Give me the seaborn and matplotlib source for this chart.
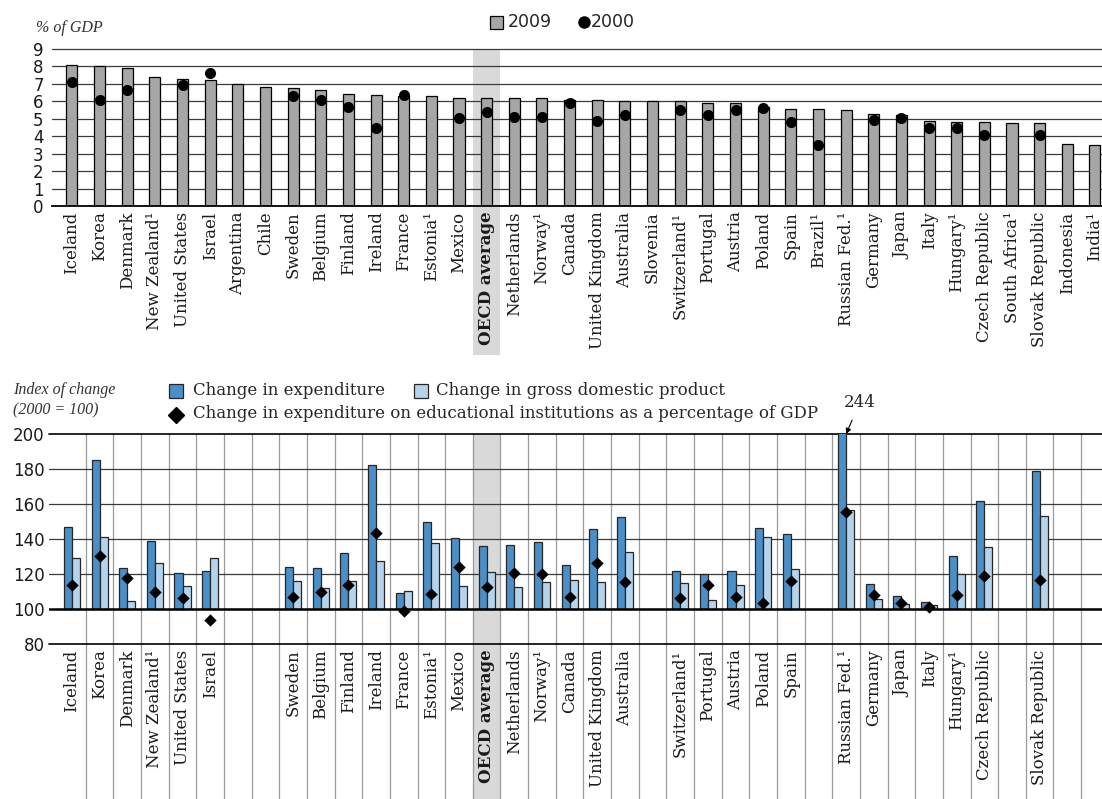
import matplotlib
matplotlib.use("Agg")
import matplotlib.pyplot as plt
import matplotlib.transforms as mtransforms
from matplotlib.patches import Rectangle
from matplotlib.lines import Line2D
import seaborn as sns
import numpy as np
import pandas as pd

nan = np.nan

# Countries, in the order of the chart
countries = ["Iceland", "Korea", "Denmark", "New Zealand¹", "United States", "Israel",
             "Argentina", "Chile", "Sweden", "Belgium", "Finland", "Ireland", "France",
             "Estonia¹", "Mexico", "OECD average", "Netherlands", "Norway¹", "Canada",
             "United Kingdom", "Australia", "Slovenia", "Switzerland¹", "Portugal",
             "Austria", "Poland", "Spain", "Brazil¹", "Russian Fed.¹", "Germany", "Japan",
             "Italy", "Hungary¹", "Czech Republic", "South Africa¹", "Slovak Republic",
             "Indonesia", "India¹"]

# Panel 1: expenditure as % of GDP
share_2009 = [8.1, 8.0, 7.9, 7.4, 7.3, 7.2, 7.0, 6.8, 6.75, 6.65, 6.4, 6.35, 6.3,
              6.3, 6.2, 6.2, 6.2, 6.2, 6.1, 6.1, 6.0, 6.0, 6.0, 5.9, 5.9, 5.7, 5.55,
              5.55, 5.5, 5.3, 5.2, 4.9, 4.8, 4.8, 4.75, 4.75, 3.55, 3.5]
share_2000 = [7.1, 6.1, 6.65, nan, 6.95, 7.6, nan, nan, 6.3, 6.05, 5.65, 4.45, 6.35,
              nan, 5.05, 5.4, 5.1, 5.1, 5.9, 4.9, 5.2, nan, 5.5, 5.2, 5.5, 5.6, 4.8,
              3.5, nan, 4.95, 5.05, 4.5, 4.45, 4.05, nan, 4.05, nan, nan]

# Panel 2: index of change 2000-2009 (2000 = 100)
exp_index = [147, 185, 123.5, 139, 120.5, 121.7, nan, nan, 124, 123.2, 132, 182.3,
             109, 149.8, 140.5, 135.9, 136.5, 138.4, 125.2, 145.8, 152.6, nan, 122,
             119.8, 121.7, 146.3, 142.9, nan, 244, 114.1, 107.2, 104, 130.1, 161.7,
             nan, 178.9, nan, nan]
gdp_index = [129, 141, 104.4, 126.3, 113, 129.3, nan, nan, 115.8, 112, 116, 127.2,
             110.3, 138, 113, 121.2, 112.6, 115.3, 116.6, 115.4, 132.4, nan, 114.7,
             105, 113.7, 141, 122.7, nan, 156.6, 105.9, 103, 102.3, 119.8, 135.6,
             nan, 153.1, nan, nan]
pct_index = [113.5, 130.5, 118, 109.7, 106.3, 93.9, nan, nan, 106.7, 109.7, 113.9,
             143.2, 98.7, 108.4, 124, 112.6, 120.8, 119.8, 107, 126.1, 115.2, nan,
             106.1, 113.9, 106.7, 103.4, 116.2, nan, 155.6, 107.8, 103.6, 101, 108.2,
             119, nan, 116.8, nan, nan]

series_names = ["Change in expenditure", "Change in gross domestic product"]
pct_name = "Change in expenditure on educational institutions as a percentage of GDP"

GREY = "#a6a6a6"
BLUE = "#4a8fc7"
LIGHT = "#b5d3eb"
SHADE = "#d9d9d9"
SERIF = "DejaVu Serif"

sns.set_theme(style="white")
plt.rcParams["font.family"] = ["DejaVu Sans"]

W, H = 1102, 799
fig = plt.figure(figsize=(W / 100, H / 100), dpi=100)


def px_box(left, top, right, bottom):
    return [left / W, 1 - bottom / H, (right - left) / W, (bottom - top) / H]


n = len(countries)
oecd = countries.index("OECD average")
slot = 27.65

ax1 = fig.add_axes(px_box(52, 49, W, 206))
ax2 = fig.add_axes(px_box(49, 434, W, 644))

# ---------- top panel ----------
tr1 = mtransforms.blended_transform_factory(ax1.transData, ax1.transAxes)
ax1.add_patch(Rectangle((oecd - 0.5, -0.95), 1, 1.95, transform=tr1, color=SHADE,
                        lw=0, zorder=0, clip_on=False))
for v in range(1, 10):
    ax1.axhline(v, color="#3a3a3a", lw=0.9, zorder=0.5, clip_on=False)

sns.barplot(x=countries, y=share_2009, order=countries, color=GREY, saturation=1,
            width=0.4, edgecolor="black", linewidth=0.9, errorbar=None, ax=ax1, zorder=2)
sns.stripplot(x=countries, y=share_2000, order=countries, jitter=False, color="black",
              size=8, linewidth=0, ax=ax1, zorder=3)

ax1.set_ylim(0, 9)
ax1.set_xlim(-0.72, -0.72 + (W - 52) / slot)
ax1.set_yticks(range(10))
ax1.set_xticks(range(n))
ax1.set_xticklabels(countries, rotation=90, fontfamily=SERIF, fontsize=13)
ax1.get_xticklabels()[oecd].set_fontweight("bold")
ax1.tick_params(axis="both", length=0, pad=4, labelsize=12, colors="#1a1a1a")
ax1.tick_params(axis="y", pad=6)
ax1.set_xlabel("")
ax1.set_ylabel("")
for s in ["top", "left", "right"]:
    ax1.spines[s].set_visible(False)
ax1.spines["bottom"].set_color("black")
ax1.spines["bottom"].set_linewidth(1.3)
ax1.patch.set_alpha(0)

# ---------- bottom panel ----------
tr2 = mtransforms.blended_transform_factory(ax2.transData, ax2.transAxes)
ax2.add_patch(Rectangle((oecd - 0.5, -0.8), 1, 1.8, transform=tr2, color=SHADE,
                        lw=0, zorder=0, clip_on=False))
for b in np.arange(n - 1) + 0.5:
    ax2.axvline(b, ymin=-0.8, ymax=1, color="#9a9a9a", lw=0.9, zorder=0.5, clip_on=False)
for v in [120, 140, 160, 180]:
    ax2.axhline(v, color="#3a3a3a", lw=0.9, zorder=0.6)
for v in [80, 200]:
    ax2.axhline(v, color="black", lw=1.2, zorder=0.6, clip_on=False)

df = pd.DataFrame({
    "country": countries * 2,
    "series": [series_names[0]] * n + [series_names[1]] * n,
    "rise": np.r_[exp_index, gdp_index] - 100,
})
sns.barplot(data=df, x="country", y="rise", hue="series", order=countries,
            hue_order=series_names, palette=[BLUE, LIGHT], saturation=1, width=0.58,
            bottom=100, edgecolor="#262626", linewidth=0.9, errorbar=None,
            legend=False, ax=ax2, zorder=2)
ax2.axhline(100, color="black", lw=1.8, zorder=2.5)
sns.stripplot(x=countries, y=pct_index, order=countries, jitter=False, marker="D",
              color="black", size=6.3, linewidth=0, ax=ax2, zorder=4)

ax2.set_ylim(80, 200)
ax2.set_xlim(-0.72 - 3 / slot, -0.72 + (W - 52) / slot)
ax2.set_yticks(range(80, 201, 20))
ax2.set_xticks(range(n))
bottom_labels = [c if not np.isnan(e) else "" for c, e in zip(countries, exp_index)]
ax2.set_xticklabels(bottom_labels, rotation=90, fontfamily=SERIF, fontsize=13)
ax2.get_xticklabels()[oecd].set_fontweight("bold")
ax2.tick_params(axis="both", length=0, pad=4, labelsize=12, colors="#1a1a1a")
ax2.tick_params(axis="y", pad=3)
ax2.set_xlabel("")
ax2.set_ylabel("")
for s in ax2.spines.values():
    s.set_visible(False)
ax2.patch.set_alpha(0)

russia = countries.index("Russian Fed.¹")
ax2.annotate(f"{exp_index[russia]:.0f}", xy=(russia, 200), xytext=(10, 23),
             textcoords="offset points", ha="center", va="center", fontfamily=SERIF,
             fontsize=12, annotation_clip=False,
             arrowprops=dict(arrowstyle="-|>", color="black", lw=0.8, shrinkA=5,
                             shrinkB=0, mutation_scale=8))

# ---------- legends and axis titles ----------
def fx(x):
    return x / W


def fy(y):
    return 1 - y / H


fig.text(fx(36), fy(28), "% of GDP", fontfamily="Liberation Serif", style="italic",
         fontsize=11.5, va="center", color="#333333")
fig.add_artist(Rectangle((fx(490), fy(29)), 13 / W, 13 / H, transform=fig.transFigure,
                         facecolor=GREY, edgecolor="black", lw=0.9))
fig.text(fx(508), fy(22), "2009", fontsize=12.5, va="center")
fig.add_artist(Line2D([fx(584)], [fy(22)], marker="o", color="black", ms=8, lw=0,
                      transform=fig.transFigure))
fig.text(fx(591), fy(22), "2000", fontsize=12.5, va="center")

fig.text(fx(13), fy(390), "Index of change", fontfamily="Liberation Serif",
         style="italic", fontsize=11.5, va="center", color="#333333")
fig.text(fx(13), fy(410), "(2000 = 100)", fontfamily="Liberation Serif",
         style="italic", fontsize=11.5, va="center", color="#333333")

fig.add_artist(Rectangle((fx(169), fy(398)), 14 / W, 14 / H, transform=fig.transFigure,
                         facecolor=BLUE, edgecolor="#262626", lw=0.9))
fig.text(fx(193), fy(391), series_names[0], fontfamily=SERIF, fontsize=12, va="center")
fig.add_artist(Rectangle((fx(414), fy(398)), 14 / W, 14 / H, transform=fig.transFigure,
                         facecolor=LIGHT, edgecolor="#262626", lw=0.9))
fig.text(fx(436), fy(391), series_names[1], fontfamily=SERIF, fontsize=12, va="center")
fig.add_artist(Line2D([fx(176)], [fy(415)], marker="D", color="black", ms=8, lw=0,
                      transform=fig.transFigure))
fig.text(fx(193), fy(414), pct_name, fontfamily=SERIF, fontsize=12, va="center")

fig.savefig("out.png", dpi=100)
